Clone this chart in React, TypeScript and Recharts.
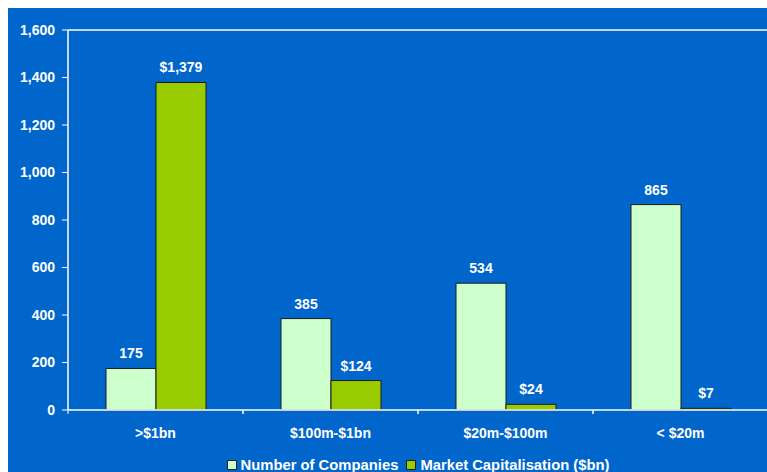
import { BarChart, Bar, XAxis, YAxis, Legend, LabelList, ReferenceLine } from "recharts";

const categories = [">$1bn", "$100m-$1bn", "$20m-$100m", "< $20m"];
const companyCounts = [175, 385, 534, 865];
const marketCap = [1379, 124, 24, 7];
const yTicks = [0, 200, 400, 600, 800, 1000, 1200, 1400, 1600];

const data = categories.map((name, i) => ({
  name,
  companies: companyCounts[i],
  cap: marketCap[i],
}));

const BLUE = "#0066CC";
const LIGHT = "#CCFFCC";
const GREEN = "#99CC00";
const FONT = "'Liberation Sans', Arial, sans-serif";
const BAND = 175; // category width in px (700 / 4)

const fmt = (v: number) => v.toLocaleString("en-US");

function CategoryTick(props: any) {
  const { x, y, payload } = props;
  return (
    <g>
      <line x1={x - BAND / 2} y1={y} x2={x - BAND / 2} y2={y + 4} stroke="#ffffff" />
      <line x1={x + BAND / 2} y1={y} x2={x + BAND / 2} y2={y + 4} stroke="#ffffff" />
      <text
        x={x}
        y={y + 28}
        textAnchor="middle"
        fill="#ffffff"
        fontFamily={FONT}
        fontWeight="bold"
        fontSize={14}
      >
        {payload.value}
      </text>
    </g>
  );
}

function LegendContent() {
  const items = [
    { label: "Number of Companies", color: LIGHT },
    { label: "Market Capitalisation ($bn)", color: GREEN },
  ];
  return (
    <div style={{ display: "flex", justifyContent: "center", gap: 8 }}>
      {items.map((it) => (
        <div key={it.label} style={{ display: "flex", alignItems: "center", gap: 4 }}>
          <span
            style={{
              width: 8,
              height: 8,
              background: it.color,
              border: "1px solid #222",
              display: "inline-block",
            }}
          />
          <span
            style={{
              color: "#ffffff",
              fontFamily: FONT,
              fontWeight: "bold",
              fontSize: 14.8,
              lineHeight: "16px",
            }}
          >
            {it.label}
          </span>
        </div>
      ))}
    </div>
  );
}

export default function App() {
  return (
    <div
      style={{
        position: "fixed",
        top: 8,
        left: 8,
        right: 0,
        bottom: 0,
        overflow: "hidden",
        background: BLUE,
      }}
    >
      <BarChart
        width={760}
        height={464}
        data={data}
        margin={{ top: 22, right: 0, left: 0, bottom: 32 }}
        barSize={50}
        barGap={0}
      >
        <ReferenceLine y={1600} stroke="#ffffff" strokeWidth={1.5} />
        <XAxis
          dataKey="name"
          height={30}
          axisLine={{ stroke: "#ffffff", strokeWidth: 1.5 }}
          tickLine={false}
          tickSize={0}
          tickMargin={0}
          interval={0}
          tick={<CategoryTick />}
        />
        <YAxis
          width={60}
          domain={[0, 1600]}
          ticks={yTicks}
          tickFormatter={fmt}
          axisLine={{ stroke: "#ffffff", strokeWidth: 1.5 }}
          tickLine={{ stroke: "#ffffff" }}
          tickSize={6}
          tickMargin={7}
          tick={{ fill: "#ffffff", fontFamily: FONT, fontWeight: "bold", fontSize: 14 }}
        />
        <Legend
          verticalAlign="middle"
          align="center"
          content={<LegendContent />}
          wrapperStyle={{ top: 449, left: 60, width: 700 }}
        />
        <Bar
          dataKey="companies"
          name="Number of Companies"
          fill={LIGHT}
          stroke="#1a1a1a"
          strokeWidth={1}
          isAnimationActive={false}
        >
          <LabelList
            dataKey="companies"
            position="top"
            offset={10}
            formatter={(v: any) => fmt(Number(v))}
            style={{ fill: "#ffffff", fontFamily: FONT, fontWeight: "bold", fontSize: 14 }}
          />
        </Bar>
        <Bar
          dataKey="cap"
          name="Market Capitalisation ($bn)"
          fill={GREEN}
          stroke="#1a1a1a"
          strokeWidth={1}
          isAnimationActive={false}
        >
          <LabelList
            dataKey="cap"
            position="top"
            offset={10}
            formatter={(v: any) => "$" + fmt(Number(v))}
            style={{ fill: "#ffffff", fontFamily: FONT, fontWeight: "bold", fontSize: 14 }}
          />
        </Bar>
      </BarChart>
    </div>
  );
}
